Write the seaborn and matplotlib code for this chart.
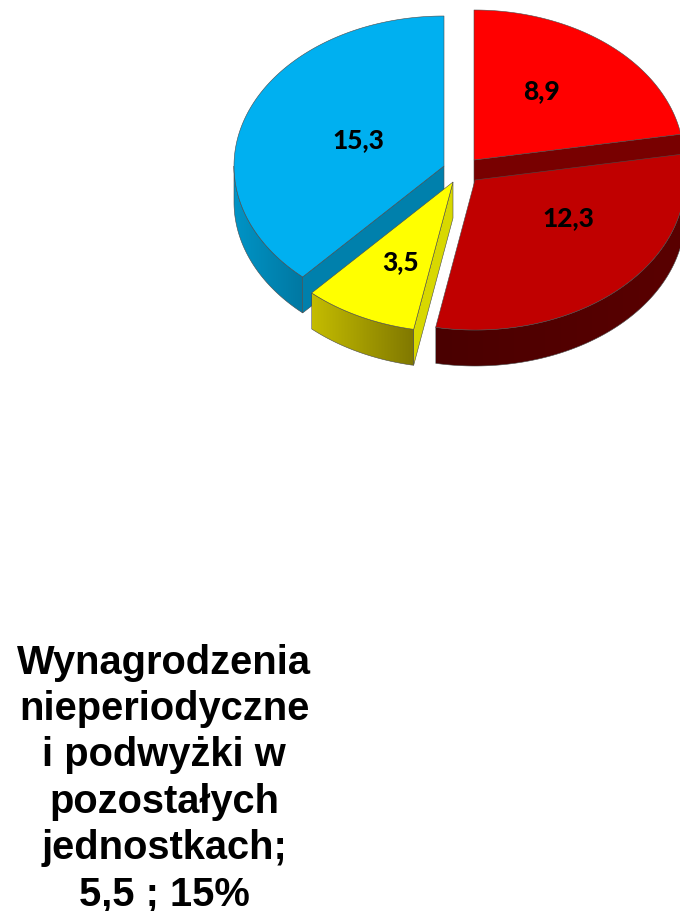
import numpy as np
import matplotlib
matplotlib.use("Agg")
import matplotlib.pyplot as plt
from matplotlib.colors import LinearSegmentedColormap
from matplotlib.patches import Polygon
import seaborn as sns

# -----------------------------------------------------
# DATA
# -----------------------------------------------------
values = [8.9, 12.3, 3.5, 15.3]
value_labels = ["8,9", "12,3", "3,5", "15,3"]
caption = "Wynagrodzenia\nnieperiodyczne\ni podwyżki w\npozostałych\njednostkach;\n5,5 ; 15%"

top_colors = ["#FF0000", "#C00000", "#FFFF00", "#00B0F0"]
cut_colors = ["#780000", "#780000", "#D8D800", "#0080AC"]
wall_left = ["#500000", "#4A0000", "#C4BC00", "#0094C6"]
wall_right = ["#500000", "#5A0000", "#807800", "#0078A2"]

# -----------------------------------------------------
# LAYOUT (pixels of the picture)
# -----------------------------------------------------
RX = 210
RY = 150
DEPTH = 36
apexes = [(474, 161), (475, 181), (453, 183), (444, 167)]
label_offsets = [(67, -70), (93, 37), (-52, 79), (-86, -27)]
draw_order = [0, 1, 3, 2]
EDGE = "#4a4a4a"

sns.set_theme(style="white")
palette = sns.color_palette(top_colors)

fig, ax = plt.subplots(figsize=(6.8, 9.12), dpi=100)
fig.subplots_adjust(left=0, right=1, top=1, bottom=0)
ax.axis("off")


def rim(apex, angle):
    # angle in degrees, clockwise from the top of the pie
    t = np.radians(angle)
    return apex[0] + RX * np.sin(t), apex[1] - RY * np.cos(t)


def draw_wall(apex, a0, a1, left, right, z):
    # outer wall, only the part facing the viewer, with a left to right gradient
    a0, a1 = max(a0, 90), min(a1, 270)
    if a1 <= a0:
        return
    xs, ys = rim(apex, np.linspace(a0, a1, 200))
    outline = np.r_[np.c_[xs, ys], np.c_[xs, ys + DEPTH][::-1]]
    cmap = LinearSegmentedColormap.from_list("wall", [left, right])
    image = ax.imshow(
        np.linspace(0, 1, 256).reshape(1, -1),
        cmap=cmap,
        aspect="auto",
        extent=(xs.min(), xs.max(), ys.max() + DEPTH, ys.min()),
        zorder=z,
    )
    patch = Polygon(outline, closed=True, fc="none", ec=EDGE, lw=0.4, zorder=z)
    ax.add_patch(patch)
    image.set_clip_path(patch)


# -----------------------------------------------------
# PIE
# -----------------------------------------------------
ends = np.cumsum(values) / np.sum(values) * 360
starts = np.concatenate([[0], ends[:-1]])
# only these cut faces look towards the viewer
cut_angles = [ends[0], None, starts[2], starts[3]]

for z, i in enumerate(draw_order, start=1):
    apex = apexes[i]

    if cut_angles[i] is not None:
        rx, ry = rim(apex, cut_angles[i])
        ax.fill(
            [apex[0], rx, rx, apex[0]],
            [apex[1], ry, ry + DEPTH, apex[1] + DEPTH],
            fc=cut_colors[i],
            ec=EDGE,
            lw=0.4,
            zorder=z,
        )

    draw_wall(apex, starts[i], ends[i], wall_left[i], wall_right[i], z)

    xs, ys = rim(apex, np.linspace(starts[i], ends[i], 200))
    ax.fill(
        np.r_[apex[0], xs],
        np.r_[apex[1], ys],
        fc=palette[i],
        ec=EDGE,
        lw=0.4,
        zorder=z,
    )

    ax.text(
        apex[0] + label_offsets[i][0],
        apex[1] + label_offsets[i][1],
        value_labels[i],
        ha="center",
        va="center",
        family="Lato",
        weight="black",
        fontsize=19,
        color="black",
        zorder=10,
    )

ax.text(
    164,
    644,
    caption,
    ha="center",
    va="top",
    family="Liberation Sans",
    weight="bold",
    fontsize=28.7,
    linespacing=1.275,
    color="black",
)

ax.set_xlim(0, 680)
ax.set_ylim(912, 0)

fig.savefig("out.png", dpi=100)
